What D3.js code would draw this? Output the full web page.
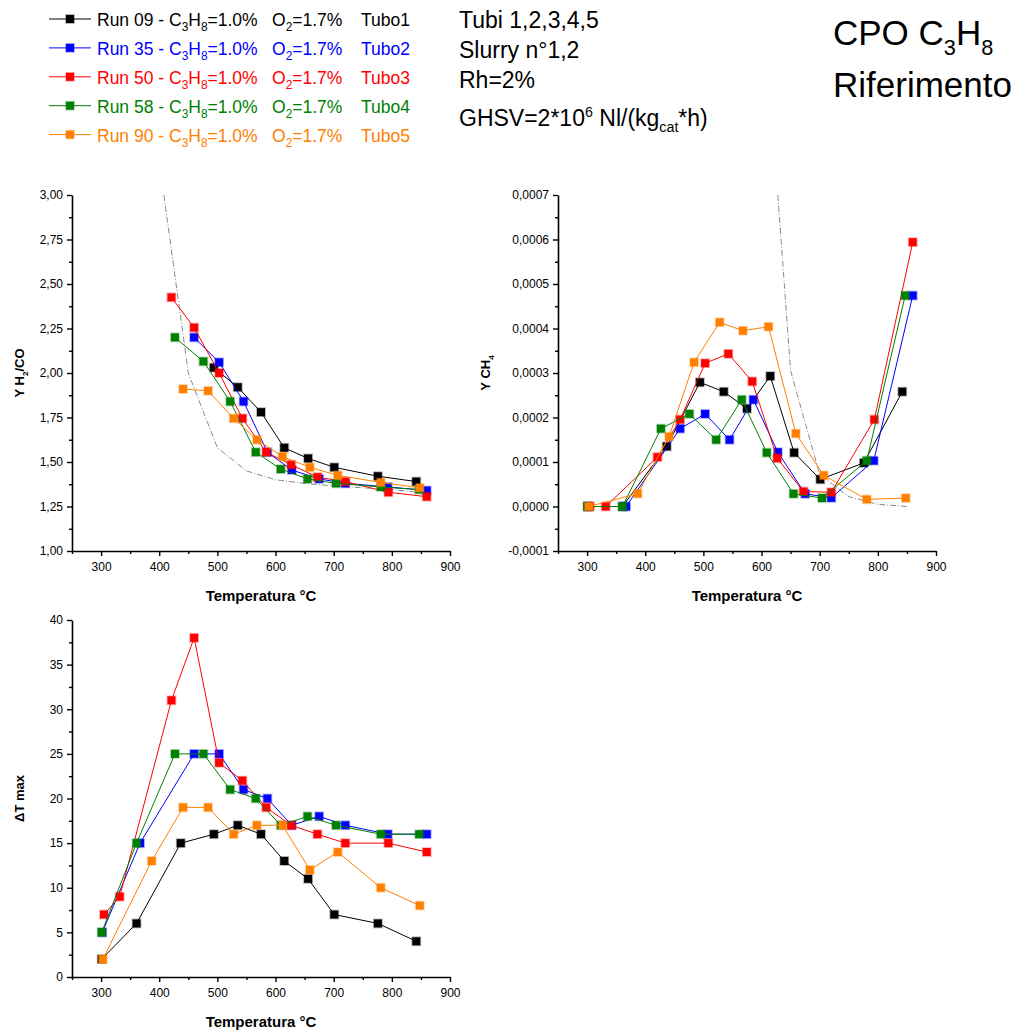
<!DOCTYPE html>
<html>
<head>
<meta charset="utf-8">
<script src="https://cdn.jsdelivr.net/npm/d3@7"></script>
<style>
  body { margin: 0; background: #fff; }
  svg { display: block; }
  text { font-family: Arial, "Liberation Sans", sans-serif; }
</style>
</head>
<body>
<svg id="chart" width="1016" height="1030"></svg>
<script>
// ---- Runs (tubes) ----
const runNames  = ["Run 09", "Run 35", "Run 50", "Run 58", "Run 90"];
const tubeNames = ["Tubo1", "Tubo2", "Tubo3", "Tubo4", "Tubo5"];
const runColors = ["#000000", "#0000ff", "#ff0000", "#008000", "#ff8000"];

// ---- Measured temperatures (°C) per run ----
const temp09 = [301, 361, 437, 494, 535, 575, 615, 656, 701, 776, 842];
const temp35 = [302, 367, 460, 503, 545, 586, 628, 675, 720, 793, 860];
const temp50 = [305, 332, 421, 460, 503, 543, 584, 627, 672, 720, 794, 860];
const temp58 = [301, 361, 427, 476, 522, 566, 609, 655, 704, 781, 847];
const temp90 = [303, 387, 441, 484, 528, 568, 612, 659, 707, 781, 848];

// ---- H2/CO ratio (null = not measured) ----
const h2co09 = [null, null, null, 2.03, 1.92, 1.78, 1.58, 1.52, 1.47, 1.42, 1.39];
const h2co35 = [null, null, 2.20, 2.06, 1.84, 1.555, 1.455, 1.405, 1.38, 1.36, 1.34];
const h2co50 = [null, null, 2.425, 2.255, 2.00, 1.745, 1.555, 1.485, 1.415, 1.39, 1.33, 1.305];
const h2co58 = [null, null, 2.20, 2.065, 1.84, 1.555, 1.46, 1.405, 1.38, 1.36, 1.345];
const h2co90 = [null, null, 1.91, 1.90, 1.745, 1.625, 1.53, 1.47, 1.425, 1.385, 1.355];

// ---- CH4 yield ----
const ch409 = [0, 0, 0.000135, 0.000279, 0.000258, 0.000220, 0.000293, 0.000121, 0.000061, 0.000098, 0.000258];
const ch435 = [0, 0, 0.000175, 0.000208, 0.000150, 0.000240, 0.000122, 0.0000285, 0.0000195, 0.000103, 0.000474];
const ch450 = [0, 0, 0.000111, 0.0001955, 0.000322, 0.000343, 0.000281, 0.0001085, 0.0000337, 0.000032, 0.0001955, 0.000594];
const ch458 = [0, 0, 0.000175, 0.000208, 0.000150, 0.000240, 0.000121, 0.0000285, 0.000019, 0.000103, 0.000474];
const ch490 = [0, 0.000029, 0.000157, 0.000324, 0.000414, 0.000395, 0.000404, 0.000164, 0.000070, 0.000016, 0.000019];

// ---- Maximum temperature rise (°C) ----
const dt09 = [2, 6, 15, 16, 17, 16, 13, 11, 7, 6, 4];
const dt35 = [5, 15, 25, 25, 21, 20, 17, 18, 17, 16, 16];
const dt50 = [7, 9, 31, 38, 24, 22, 19, 17, 16, 15, 15, 14];
const dt58 = [5, 15, 25, 25, 21, 20, 17, 18, 17, 16, 16];
const dt90 = [2, 13, 19, 19, 16, 17, 17, 12, 14, 10, 8];

// ---- Equilibrium reference curves ----
const eqTempH2co = [408, 450, 500, 550, 600, 650, 700, 750, 800, 860];
const eqH2co     = [3.00, 2.00, 1.58, 1.45, 1.40, 1.38, 1.365, 1.355, 1.345, 1.325];
const eqTempCh4  = [628, 650, 700, 750, 800, 850];
const eqCh4      = [0.0007, 0.000305, 0.000072, 0.000022, 0.000005, 0.0];

// ---- Axis ticks ----
const xMajor = [300, 400, 500, 600, 700, 800, 900];
const xMinor = [250, 350, 450, 550, 650, 750, 850];
const yMajorH2co = [1.00, 1.25, 1.50, 1.75, 2.00, 2.25, 2.50, 2.75, 3.00];
const yMajorCh4  = [-0.0001, 0, 0.0001, 0.0002, 0.0003, 0.0004, 0.0005, 0.0006, 0.0007];
const yMajorDt   = [0, 5, 10, 15, 20, 25, 30, 35, 40];

const temps = [temp09, temp35, temp50, temp58, temp90];

function series(values) {
  return values.map((vals, i) =>
    vals.map((v, j) => ({ t: temps[i][j], v })).filter(d => d.v !== null));
}

const svg = d3.select("#chart");
const comma = s => s.replace(".", ",");

// Writes text made of normal / subscript / superscript pieces
function richText(sel, parts, size, scale = 0.62) {
  let shift = 0;
  parts.forEach(p => {
    const [str, kind] = Array.isArray(p) ? p : [p, null];
    const target = kind === "sub" ? 0.28 * size : kind === "sup" ? -0.38 * size : 0;
    const ts = sel.append("tspan").text(str).attr("dy", target - shift);
    if (kind) ts.attr("font-size", size * scale);
    shift = target;
  });
}

function panel(cfg) {
  const x = d3.scaleLinear().domain([250, 900]).range([cfg.left, cfg.right]);
  const y = d3.scaleLinear().domain(cfg.yDomain).range([cfg.bottom, cfg.top]);
  const g = svg.append("g");

  // reference curve
  if (cfg.ref) {
    const refLine = d3.line().x(d => x(d[0])).y(d => y(d[1]));
    g.append("path")
      .datum(cfg.ref[0].map((t, i) => [t, cfg.ref[1][i]]))
      .attr("d", refLine)
      .attr("fill", "none")
      .attr("stroke", "#8a8a8a")
      .attr("stroke-width", 1)
      .attr("stroke-dasharray", "6,2,1,2");
  }

  const line = d3.line().x(d => x(d.t)).y(d => y(d.v));
  cfg.data.forEach((pts, i) => {
    const s = g.append("g");
    s.append("path").datum(pts).attr("d", line)
      .attr("fill", "none").attr("stroke", runColors[i]).attr("stroke-width", 1);
    s.selectAll("rect").data(pts).join("rect")
      .attr("x", d => x(d.t) - 4).attr("y", d => y(d.v) - 4)
      .attr("width", 8).attr("height", 8)
      .attr("fill", runColors[i])
      .attr("stroke", runColors[i]).attr("stroke-opacity", 0.3).attr("stroke-width", 1.8);
  });

  // axes
  const styleAxis = a => {
    a.select(".domain").attr("stroke-width", 1.6);
    a.selectAll(".tick line").attr("stroke-width", 1.4);
    a.selectAll("text").attr("font-size", 12).attr("font-family", "Arial, 'Liberation Sans', sans-serif");
  };
  const xa = g.append("g").attr("transform", `translate(0,${cfg.bottom})`)
    .call(d3.axisBottom(x).tickValues(xMajor).tickSize(5).tickSizeOuter(0).tickPadding(6).tickFormat(d3.format("d")));
  styleAxis(xa);
  const xm = g.append("g").attr("transform", `translate(0,${cfg.bottom})`)
    .call(d3.axisBottom(x).tickValues(xMinor).tickSize(3).tickSizeOuter(0).tickFormat(""));
  styleAxis(xm); xm.select(".domain").remove();

  const ya = g.append("g").attr("transform", `translate(${cfg.left},0)`)
    .call(d3.axisLeft(y).tickValues(cfg.yMajor).tickSize(5).tickSizeOuter(0).tickPadding(4).tickFormat(cfg.yFormat));
  styleAxis(ya);
  const ym = g.append("g").attr("transform", `translate(${cfg.left},0)`)
    .call(d3.axisLeft(y).tickValues(cfg.yMinor).tickSize(3).tickSizeOuter(0).tickFormat(""));
  styleAxis(ym); ym.select(".domain").remove();

  // titles
  g.append("text").attr("x", (cfg.left + cfg.right) / 2).attr("y", cfg.bottom + 50)
    .attr("text-anchor", "middle").attr("font-weight", "bold").attr("font-size", 15)
    .text("Temperatura °C");
  const yt = g.append("text")
    .attr("transform", `translate(${cfg.yTitleX},${(cfg.top + cfg.bottom) / 2}) rotate(-90)`)
    .attr("text-anchor", "middle").attr("font-weight", "bold").attr("font-size", 13);
  richText(yt, cfg.yTitle, 13);
}

const minorBetween = (arr) => arr.slice(0, -1).map((v, i) => (v + arr[i + 1]) / 2);

panel({
  left: 72, right: 450, top: 195, bottom: 551,
  yDomain: [1, 3], yMajor: yMajorH2co, yMinor: minorBetween(yMajorH2co),
  yFormat: d => comma(d3.format(".2f")(d)),
  data: series([h2co09, h2co35, h2co50, h2co58, h2co90]),
  ref: [eqTempH2co, eqH2co],
  yTitle: ["Y H", ["2", "sub"], "/CO"], yTitleX: 24
});

panel({
  left: 558, right: 936, top: 195, bottom: 551,
  yDomain: [-0.0001, 0.0007], yMajor: yMajorCh4, yMinor: minorBetween(yMajorCh4),
  yFormat: d => comma(d3.format(".4f")(d)).replace("−", "-"),
  data: series([ch409, ch435, ch450, ch458, ch490]),
  ref: [eqTempCh4, eqCh4],
  yTitle: ["Y CH", ["4", "sub"]], yTitleX: 490
});

panel({
  left: 72, right: 450, top: 620, bottom: 977,
  yDomain: [0, 40], yMajor: yMajorDt, yMinor: minorBetween(yMajorDt),
  yFormat: d3.format("d"),
  data: series([dt09, dt35, dt50, dt58, dt90]),
  ref: null,
  yTitle: ["ΔT max"], yTitleX: 24
});

// ---- Legend ----
const legend = svg.append("g");
runNames.forEach((name, i) => {
  const base = 26 + i * 28.9;
  const cy = base - 7;
  const c = runColors[i];
  legend.append("line").attr("x1", 49).attr("x2", 91).attr("y1", cy).attr("y2", cy)
    .attr("stroke", c).attr("stroke-width", 1);
  legend.append("rect").attr("x", 66).attr("y", cy - 4).attr("width", 8).attr("height", 8)
    .attr("fill", c).attr("stroke", c).attr("stroke-opacity", 0.3).attr("stroke-width", 1.8);
  const t1 = legend.append("text").attr("x", 97).attr("y", base).attr("font-size", 17.5).attr("fill", c);
  richText(t1, [`${name} - C`, ["3", "sub"], "H", ["8", "sub"], "=1.0%"], 17.5, 0.68);
  const t2 = legend.append("text").attr("x", 272).attr("y", base).attr("font-size", 17.5).attr("fill", c);
  richText(t2, ["O", ["2", "sub"], "=1.7%"], 17.5, 0.68);
  legend.append("text").attr("x", 361).attr("y", base).attr("font-size", 17.5).attr("fill", c)
    .text(tubeNames[i]);
});

// ---- Test conditions ----
const info = svg.append("g").attr("font-size", 23);
info.append("text").attr("x", 459).attr("y", 28).text("Tubi 1,2,3,4,5");
info.append("text").attr("x", 459).attr("y", 58).text("Slurry n°1,2");
info.append("text").attr("x", 459).attr("y", 88).text("Rh=2%");
richText(info.append("text").attr("x", 459).attr("y", 126),
  ["GHSV=2*10", ["6", "sup"], " Nl/(kg", ["cat", "sub"], "*h)"], 23);

const head = svg.append("g").attr("font-size", 35);
richText(head.append("text").attr("x", 833).attr("y", 45), ["CPO C", ["3", "sub"], "H", ["8", "sub"]], 35);
head.append("text").attr("x", 833).attr("y", 97).text("Riferimento");
</script>
</body>
</html>
